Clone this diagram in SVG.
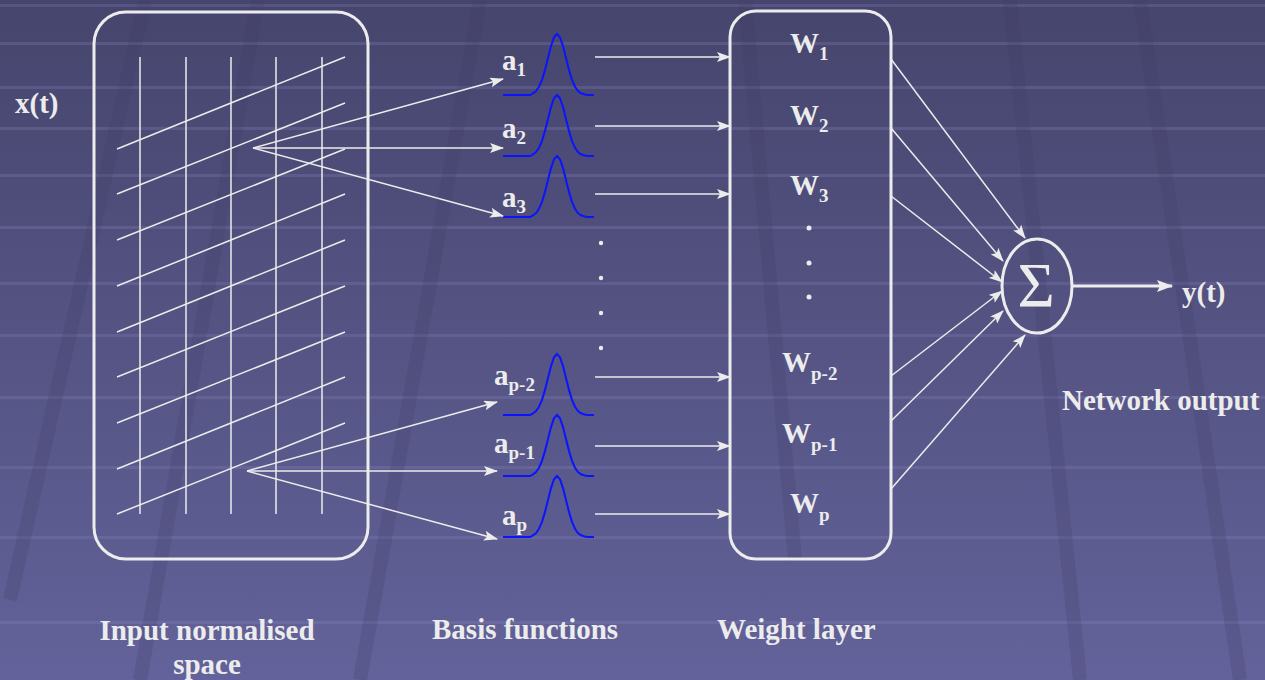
<svg xmlns="http://www.w3.org/2000/svg" xmlns:xlink="http://www.w3.org/1999/xlink" width="1265" height="680" viewBox="0 0 1265 680">
<style>
.t{font-family:"Liberation Serif","Times New Roman",serif;font-weight:bold;fill:#ececec;font-size:29px}
.s{font-size:19px}
.ln{stroke:#ececec;stroke-width:1.5;fill:none}
.box{stroke:#ececec;stroke-width:3;fill:none}
.g{stroke:#0a14ff;stroke-width:2;fill:none}
.arr{stroke:#ececec;stroke-width:1.5;fill:none;marker-end:url(#ah)}
.stripe{fill:#8a89c0;opacity:0.25}
.dk{stroke:#3f3d66;stroke-width:14;opacity:0.22}
</style>
<defs>
<linearGradient id="bg" x1="0" y1="0" x2="0" y2="1">
<stop offset="0" stop-color="#46456d"/>
<stop offset="1" stop-color="#63629a"/>
</linearGradient>
<marker id="ah" markerUnits="userSpaceOnUse" markerWidth="14" markerHeight="10" refX="13" refY="5" orient="auto">
<path d="M0,0 L14,5 L0,10 L3,5 Z" fill="#ececec"/>
</marker>
<marker id="ah2" markerUnits="userSpaceOnUse" markerWidth="16" markerHeight="12" refX="15" refY="6" orient="auto">
<path d="M0,0 L16,6 L0,12 L3,6 Z" fill="#ececec"/>
</marker>
<path id="gauss" d="M503,0 H530 L533,-1.7 L536,-4 L539,-8.3 L542,-15.2 L545,-25.1 L548,-37 L551,-48.9 L554,-57.7 L557,-61 L560,-57.7 L563,-48.9 L566,-37 L569,-25.1 L572,-15.2 L575,-8.3 L578,-4 L581,-1.7 L584,-0.7 L587,0 H594"/>
</defs>

<g id="background">
<rect width="1265" height="680" fill="url(#bg)"/>
<rect class="stripe" x="0" y="4" width="1265" height="3"/>
<rect class="stripe" x="0" y="42" width="1265" height="3"/>
<rect class="stripe" x="0" y="86" width="1265" height="3"/>
<rect class="stripe" x="0" y="127" width="1265" height="3"/>
<rect class="stripe" x="0" y="174" width="1265" height="3"/>
<rect class="stripe" x="0" y="226" width="1265" height="3"/>
<rect class="stripe" x="0" y="282" width="1265" height="3"/>
<rect class="stripe" x="0" y="334" width="1265" height="3"/>
<rect class="stripe" x="0" y="396" width="1265" height="3"/>
<rect class="stripe" x="0" y="466" width="1265" height="3"/>
<rect class="stripe" x="0" y="536" width="1265" height="3"/>
<rect class="stripe" x="0" y="621" width="1265" height="3"/>
<line class="dk" x1="145" y1="0" x2="10" y2="600"/>
<line class="dk" x1="258" y1="0" x2="140" y2="680"/>
<line class="dk" x1="480" y1="0" x2="360" y2="680"/>
<line class="dk" x1="745" y1="0" x2="795" y2="560"/>
<line class="dk" x1="1010" y1="0" x2="1080" y2="680"/>
<line class="dk" x1="1140" y1="0" x2="1240" y2="680"/>
</g>

<g id="input-space">
<rect class="box" x="94" y="12" width="274" height="547" rx="32"/>
<g class="ln">
<line x1="140" y1="57" x2="140" y2="514"/>
<line x1="186" y1="57" x2="186" y2="514"/>
<line x1="231" y1="57" x2="231" y2="514"/>
<line x1="276" y1="57" x2="276" y2="514"/>
<line x1="322" y1="57" x2="322" y2="514"/>
<line x1="117" y1="149" x2="345" y2="57"/>
<line x1="117" y1="194" x2="345" y2="103"/>
<line x1="117" y1="240" x2="345" y2="149"/>
<line x1="117" y1="286" x2="345" y2="194"/>
<line x1="117" y1="332" x2="345" y2="240"/>
<line x1="117" y1="377" x2="345" y2="286"/>
<line x1="117" y1="423" x2="345" y2="332"/>
<line x1="117" y1="469" x2="345" y2="377"/>
<line x1="117" y1="514" x2="345" y2="423"/>
</g>
</g>

<g id="basis-functions">
<g class="g">
<use xlink:href="#gauss" transform="translate(0,95)"/>
<use xlink:href="#gauss" transform="translate(0,156)"/>
<use xlink:href="#gauss" transform="translate(0,217)"/>
<use xlink:href="#gauss" transform="translate(0,415)"/>
<use xlink:href="#gauss" transform="translate(0,476)"/>
<use xlink:href="#gauss" transform="translate(0,537)"/>
</g>
<text class="t" x="502" y="70">a<tspan class="s" dy="6">1</tspan></text>
<text class="t" x="502" y="138">a<tspan class="s" dy="6">2</tspan></text>
<text class="t" x="502" y="207">a<tspan class="s" dy="6">3</tspan></text>
<text class="t" x="494" y="385">a<tspan class="s" dy="6">p-2</tspan></text>
<text class="t" x="494" y="453">a<tspan class="s" dy="6">p-1</tspan></text>
<text class="t" x="502" y="525">a<tspan class="s" dy="6">p</tspan></text>
<g fill="#ececec">
<circle cx="601" cy="243" r="2.2"/>
<circle cx="601" cy="278" r="2.2"/>
<circle cx="601" cy="313" r="2.2"/>
<circle cx="601" cy="348" r="2.2"/>
</g>
</g>

<g id="weight-layer">
<rect class="box" x="730" y="11" width="161" height="548" rx="26"/>
<text class="t" x="790" y="53">W<tspan class="s" dy="7">1</tspan></text>
<text class="t" x="790" y="125">W<tspan class="s" dy="7">2</tspan></text>
<text class="t" x="790" y="195">W<tspan class="s" dy="7">3</tspan></text>
<text class="t" x="782" y="372">W<tspan class="s" dy="8">p-2</tspan></text>
<text class="t" x="782" y="443">W<tspan class="s" dy="8">p-1</tspan></text>
<text class="t" x="790" y="513">W<tspan class="s" dy="8">p</tspan></text>
<g fill="#ececec">
<circle cx="809" cy="228" r="2.5"/>
<circle cx="809" cy="263" r="2.5"/>
<circle cx="809" cy="297" r="2.5"/>
</g>
</g>

<g id="sum-node">
<ellipse class="box" cx="1037" cy="286" rx="35" ry="47"/>
<text x="1036" y="307" text-anchor="middle" style="font-family:'Liberation Serif','Times New Roman',serif;font-size:64px;fill:#ececec">Σ</text>
</g>

<g id="labels">
<text class="t" x="15" y="113">x(t)</text>
<text class="t" x="1182" y="302">y(t)</text>
<text class="t" x="1062" y="410">Network output</text>
<text class="t" x="207" y="640" text-anchor="middle">Input normalised</text>
<text class="t" x="207" y="674" text-anchor="middle">space</text>
<text class="t" x="432" y="639">Basis functions</text>
<text class="t" x="717" y="639">Weight layer</text>
</g>

<g id="connectors">
<line class="arr" x1="253" y1="148" x2="503" y2="79"/>
<line class="arr" x1="253" y1="148" x2="503" y2="148"/>
<line class="arr" x1="253" y1="148" x2="503" y2="216"/>
<line class="arr" x1="247" y1="471" x2="497" y2="402"/>
<line class="arr" x1="247" y1="471" x2="497" y2="471"/>
<line class="arr" x1="247" y1="471" x2="497" y2="539"/>
<line class="arr" x1="595" y1="57" x2="730" y2="57"/>
<line class="arr" x1="595" y1="126" x2="730" y2="126"/>
<line class="arr" x1="595" y1="194" x2="730" y2="194"/>
<line class="arr" x1="595" y1="377" x2="730" y2="377"/>
<line class="arr" x1="595" y1="446" x2="730" y2="446"/>
<line class="arr" x1="595" y1="514" x2="730" y2="514"/>
<line class="arr" x1="891" y1="59" x2="1025" y2="238"/>
<line class="arr" x1="891" y1="128" x2="1003" y2="261"/>
<line class="arr" x1="891" y1="196" x2="1002" y2="282"/>
<line class="arr" x1="891" y1="376" x2="1002" y2="291"/>
<line class="arr" x1="891" y1="421" x2="1003" y2="311"/>
<line class="arr" x1="891" y1="489" x2="1025" y2="335"/>
<line x1="1073" y1="286" x2="1172" y2="286" stroke="#ececec" stroke-width="3" marker-end="url(#ah2)"/>
</g>
</svg>
